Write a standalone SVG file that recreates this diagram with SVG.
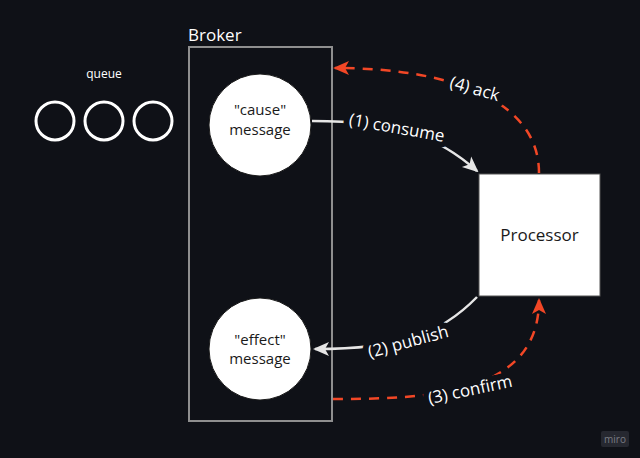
<svg xmlns="http://www.w3.org/2000/svg" width="640" height="458" viewBox="0 0 640 458">
<style>
.lbl{font-family:"Open Sans","Liberation Sans",sans-serif;font-size:17px;fill:#ffffff;text-anchor:middle;dominant-baseline:central;paint-order:stroke;stroke:#0f1117;stroke-width:12px;stroke-linejoin:round}
.node{font-family:"Open Sans","Liberation Sans",sans-serif;font-size:15px;fill:#1a1a1a;text-anchor:middle}
.white{fill:none;stroke:#e6e6e6;stroke-width:2.5}
.red{fill:none;stroke:#f24726;stroke-width:2.5;stroke-dasharray:10 8}
.q{fill:none;stroke:#ffffff;stroke-width:3}
</style>
<defs>
<marker id="aw" viewBox="0 0 16 16" refX="14" refY="8" markerWidth="16" markerHeight="16" markerUnits="userSpaceOnUse" orient="auto">
<path d="M0,1 L16,8 L0,15 L4,8 z" fill="#e6e6e6"/>
</marker>
<marker id="ar" viewBox="0 0 16 16" refX="14" refY="8" markerWidth="16" markerHeight="16" markerUnits="userSpaceOnUse" orient="auto">
<path d="M0,1 L16,8 L0,15 L4,8 z" fill="#f24726"/>
</marker>
</defs>
<rect width="640" height="458" fill="#0f1117"/>
<g id="broker">
<rect x="189" y="47" width="143" height="374" fill="none" stroke="#8f8f8f" stroke-width="2"/>
<text x="188" y="41" font-family="Open Sans, Liberation Sans, sans-serif" font-size="17" fill="#ffffff">Broker</text>
</g>
<g id="queue">
<text x="104" y="78" font-family="Open Sans, Liberation Sans, sans-serif" font-size="12" fill="#ffffff" text-anchor="middle">queue</text>
<circle class="q" cx="55" cy="121" r="19"/>
<circle class="q" cx="104" cy="121" r="19"/>
<circle class="q" cx="153" cy="121" r="19"/>
</g>
<g id="cause">
<circle cx="260" cy="125" r="51" fill="#ffffff" stroke="#1a1a1a" stroke-width="1"/>
<text class="node" x="260" y="115">"cause"</text>
<text class="node" x="260" y="135">message</text>
</g>
<g id="effect">
<circle cx="260" cy="349" r="51" fill="#ffffff" stroke="#1a1a1a" stroke-width="1"/>
<text class="node" x="260" y="345">"effect"</text>
<text class="node" x="260" y="364">message</text>
</g>
<g id="processor">
<rect x="479" y="174" width="121" height="122" fill="#ffffff" stroke="#555" stroke-width="1"/>
<text x="539.5" y="241" font-family="Open Sans, Liberation Sans, sans-serif" font-size="17" fill="#1a1a1a" text-anchor="middle">Processor</text>
</g>
<g id="connectors">
<path class="white" d="M312,121 C400,121 440,138 477,171" marker-end="url(#aw)"/>
<path class="red" d="M539,173 C539,100 450,68 335,68" marker-end="url(#ar)"/>
<path class="white" d="M477,297 C440,335 400,349 315,349" marker-end="url(#aw)"/>
<path class="red" d="M333,399 C430,399 539,395 539,300" marker-end="url(#ar)"/>
<text class="lbl" transform="translate(397,127) rotate(10)">(1) consume</text>
<text class="lbl" transform="translate(475,88) rotate(16)">(4) ack</text>
<text class="lbl" transform="translate(408,341) rotate(-15)">(2) publish</text>
<text class="lbl" transform="translate(470,389) rotate(-12)">(3) confirm</text>
</g>
<g id="watermark">
<rect x="601" y="431" width="28" height="16" rx="2" fill="#262830"/>
<text x="615" y="443" font-family="Open Sans, Liberation Sans, sans-serif" font-size="10" fill="#7a7c84" text-anchor="middle">miro</text>
</g>
</svg>
